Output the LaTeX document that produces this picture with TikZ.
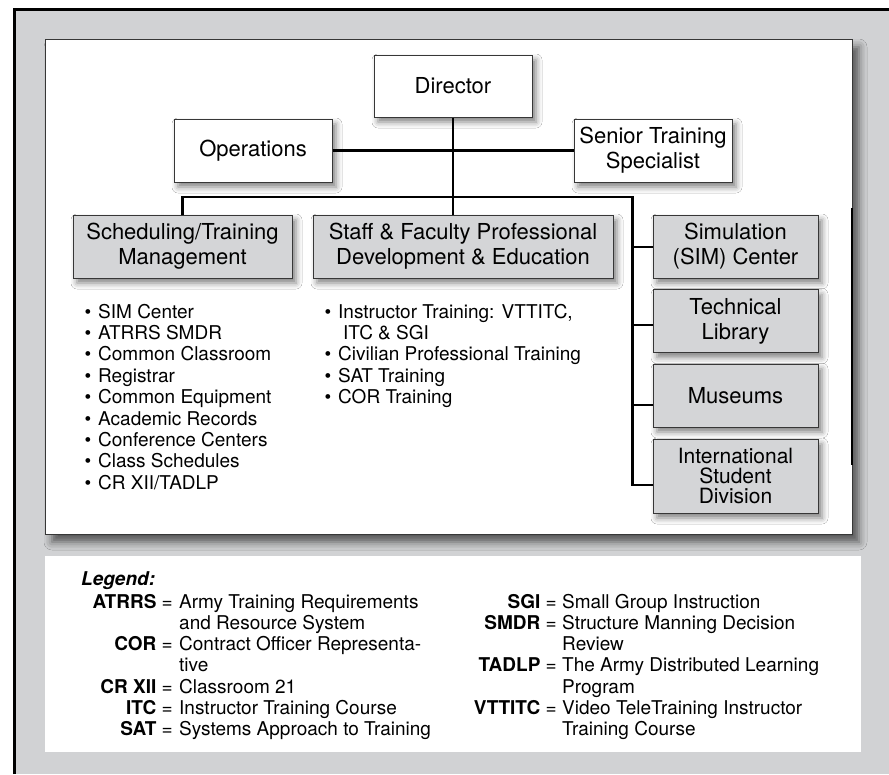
\documentclass[tikz,border=0pt]{standalone}
\usepackage{fontspec}
\setmainfont{TeX Gyre Heros}
\usetikzlibrary{shadows.blur}
\definecolor{bggray}{RGB}{209,210,212}
\definecolor{boxgray}{RGB}{212,213,215}
\definecolor{edgegray}{RGB}{55,55,55}
\begin{document}
\begin{tikzpicture}[x=1pt,y=-1pt,
  orgbox/.style={draw=edgegray, line width=1pt, inner sep=0pt, align=center,
    font=\fontsize{22}{25}\selectfont,
    blur shadow={shadow xshift=4pt, shadow yshift=-5pt, shadow blur radius=6pt, shadow opacity=50}},
  whitebox/.style={orgbox, fill=white, minimum width=158pt, minimum height=63pt},
  graybox/.style={orgbox, fill=boxgray, minimum height=63pt},
  sidebox/.style={graybox, minimum width=165pt},
  link/.style={line width=2.2pt, black},
  itemtext/.style={anchor=base west, inner sep=0pt, font=\fontsize{19}{21}\selectfont},
  abbr/.style={anchor=base east, inner sep=0pt, font=\fontsize{19}{21}\selectfont},
  desc/.style={anchor=base west, inner sep=0pt, font=\fontsize{19}{21}\selectfont}]
\useasboundingbox (0,0) rectangle (889,774);
\fill[white] (0,0) rectangle (889,774);
\fill[bggray] (14,9) rectangle (889,774);
\draw[line width=2.7pt] (14.7,774) -- (14.7,9.3) -- (889,9.3);
% main panel
\path[fill=white, draw=edgegray, line width=1pt,
  blur shadow={shadow xshift=7pt, shadow yshift=-8pt, shadow blur radius=8pt, shadow opacity=60}]
  (45,39) rectangle (852,534);
\draw[line width=2pt] (852,208) -- (852,465);
% legend panel
\fill[white] (45,556) rectangle (861,752);

% boxes
\node[whitebox, minimum height=62pt] (dir) at (453,86) {Director};
\node[whitebox] (ops) at (253,150.5) {Operations};
\node[whitebox] (sts) at (653,150.5) {Senior Training\\Specialist};
\node[graybox, minimum width=219pt] (sch) at (182.5,246.5) {Scheduling/Training\\Management};
\node[graybox, minimum width=300pt] (staff) at (463,246.5) {Staff \& Faculty Professional\\Development \& Education};
\node[sidebox] (sim) at (735.5,246.5) {Simulation\\(SIM) Center};
\node[sidebox] (tech) at (735.5,321) {Technical\\Library};
\node[sidebox] (mus) at (735.5,395.5) {Museums};
\node[sidebox, minimum height=74pt, font=\fontsize{21}{20}\selectfont] (isd) at (735.5,476) {International\\Student\\Division};

% connectors
\coordinate (busR) at (632.5,197);
\coordinate (jsim) at (632.5,247);
\coordinate (jtech) at (632.5,325);
\coordinate (jmus) at (632.5,405);
\coordinate (jisd) at (632.5,485);
\draw[link] (dir.south) -- (dir.south |- staff.north);
\draw[link] (ops.east) -- (sts.west);
\draw[link] (sch.north) |- (busR) -- (jisd) -- (jisd -| isd.west);
\draw[link] (jsim) -- (jsim -| sim.west);
\draw[link] (jtech) -- (jtech -| tech.west);
\draw[link] (jmus) -- (jmus -| mus.west);

% bullet lists
\foreach \t [count=\i from 0] in {SIM Center, ATRRS SMDR, Common Classroom, Registrar,
  Common Equipment, Academic Records, Conference Centers, Class Schedules, CR XII/TADLP}
  \node[itemtext] (la\i) at (98,{318+21.4*\i}) {\llap{\textbullet\hspace{7pt}}\t};
\node[itemtext] (lb0) at (338,318) {\llap{\textbullet\hspace{7pt}}Instructor Training: VTTITC,};
\node[itemtext] (lb1) at (343,339.4) {ITC \& SGI};
\node[itemtext] (lb2) at (338,360.8) {\llap{\textbullet\hspace{7pt}}Civilian Professional Training};
\node[itemtext] (lb3) at (338,382.2) {\llap{\textbullet\hspace{7pt}}SAT Training};
\node[itemtext] (lb4) at (338,403.6) {\llap{\textbullet\hspace{7pt}}COR Training};

% legend
\node[desc] (leg) at (81,585) {\textbf{\textit{Legend:}}};
\node[abbr] (a1) at (173,608) {\textbf{ATRRS} =};
\node[desc] (d1) at (179,608) {Army Training Requirements};
\node[desc] (d1b) at (179,629) {and Resource System};
\node[abbr] (a2) at (173,650) {\textbf{COR} =};
\node[desc] (d2) at (179,650) {Contract Officer Representa-};
\node[desc] (d2b) at (179,671) {tive};
\node[abbr] (a3) at (173,693) {\textbf{CR XII} =};
\node[desc] (d3) at (179,693) {Classroom 21};
\node[abbr] (a4) at (173,714) {\textbf{ITC} =};
\node[desc] (d4) at (179,714) {Instructor Training Course};
\node[abbr] (a5) at (173,735) {\textbf{SAT} =};
\node[desc] (d5) at (179,735) {Systems Approach to Training};

\node[abbr] (b1) at (557,608) {\textbf{SGI} =};
\node[desc] (e1) at (562,608) {Small Group Instruction};
\node[abbr] (b2) at (557,629) {\textbf{SMDR} =};
\node[desc] (e2) at (562,629) {Structure Manning Decision};
\node[desc] (e2b) at (562,650) {Review};
\node[abbr] (b3) at (557,671) {\textbf{TADLP} =};
\node[desc] (e3) at (562,671) {The Army Distributed Learning};
\node[desc] (e3b) at (562,693) {Program};
\node[abbr] (b4) at (557,714) {\textbf{VTTITC} =};
\node[desc] (e4) at (562,714) {Video TeleTraining Instructor};
\node[desc] (e4b) at (562,735) {Training Course};
\end{tikzpicture}
\end{document}
